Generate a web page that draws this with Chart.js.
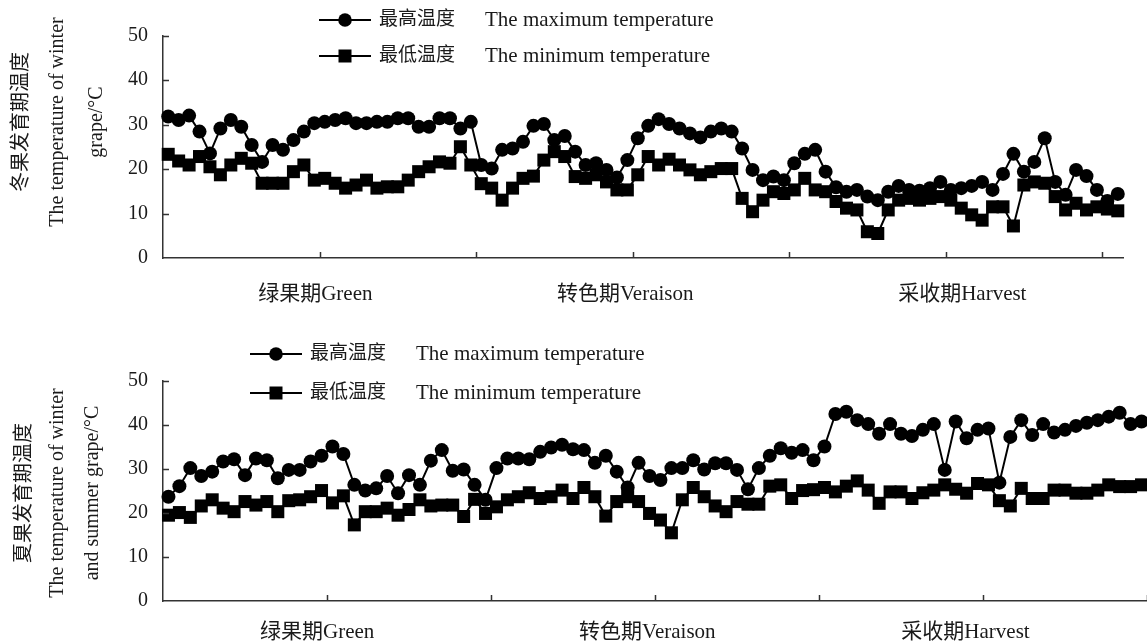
<!DOCTYPE html>
<html>
<head>
<meta charset="utf-8">
<script src="https://cdn.jsdelivr.net/npm/chart.js@4.4.0/dist/chart.umd.min.js"></script>
<style>
  html, body { margin: 0; padding: 0; background: #fff; overflow: hidden; }
  .panel { position: absolute; left: 0; width: 1147px; }
  #topPanel { top: 0; height: 320px; }
  #bottomPanel { top: 320px; height: 323px; }
</style>
</head>
<body>
<div class="panel" id="topPanel"><canvas id="winterChart"></canvas></div>
<div class="panel" id="bottomPanel"><canvas id="summerChart"></canvas></div>
<script>
// winter grape, daily max / min (°C)
const winterMax = [31.8, 31.0, 32.0, 28.4, 23.5, 29.1, 31.0, 29.5, 25.4, 21.6,
  25.4, 24.3, 26.5, 28.4, 30.3, 30.6, 31.0, 31.4, 30.3, 30.3,
  30.6, 30.6, 31.4, 31.4, 29.5, 29.5, 31.4, 31.4, 29.1, 30.6,
  20.9, 20.1, 24.3, 24.6, 26.1, 29.7, 30.1, 26.5, 27.4, 23.9,
  20.9, 21.3, 19.8, 18.1, 22.0, 26.9, 29.7, 31.2, 30.1, 29.1,
  28.0, 27.1, 28.4, 29.1, 28.4, 24.6, 19.8, 17.5, 18.3, 17.5,
  21.3, 23.4, 24.3, 19.4, 15.9, 14.9, 15.3, 13.8, 13.0, 14.9,
  16.2, 15.3, 15.1, 15.7, 17.1, 15.3, 15.7, 16.2, 17.1, 15.3,
  18.9, 23.4, 19.4, 21.6, 26.9, 17.1, 14.2, 19.8, 18.4, 15.3,
  12.8, 14.4];
const winterMin = [23.3, 21.8, 20.9, 22.8, 20.5, 18.7, 20.9, 22.4, 21.3, 16.8,
  16.8, 16.8, 19.4, 20.9, 17.5, 17.9, 16.8, 15.7, 16.4, 17.5,
  15.7, 16.0, 16.0, 17.5, 19.4, 20.5, 21.6, 21.3, 25.0, 20.9,
  16.7, 15.7, 13.0, 15.7, 17.9, 18.4, 22.0, 23.9, 22.8, 18.3,
  17.9, 18.7, 17.1, 15.3, 15.3, 18.7, 22.8, 20.9, 22.2, 20.9,
  19.8, 18.7, 19.4, 20.1, 20.1, 13.4, 10.4, 13.0, 14.9, 14.5,
  15.3, 17.9, 15.3, 14.9, 12.7, 11.2, 10.8, 5.9, 5.5, 10.8,
  13.0, 13.4, 13.0, 13.4, 13.8, 13.0, 11.2, 9.7, 8.5, 11.5,
  11.5, 7.2, 16.4, 17.1, 16.8, 13.8, 10.8, 12.3, 10.8, 11.5,
  11.0, 10.6];

// summer grape, daily max / min (°C)
const summerMax = [23.7, 26.1, 30.2, 28.4, 29.4, 31.7, 32.2, 28.6, 32.4, 32.0,
  27.9, 29.8, 29.8, 31.7, 33.0, 35.1, 33.4, 26.4, 25.1, 25.6,
  28.4, 24.5, 28.6, 26.4, 31.9, 34.3, 29.6, 29.9, 26.4, 23.0,
  30.2, 32.4, 32.4, 32.2, 33.9, 34.9, 35.5, 34.5, 34.3, 31.4,
  33.0, 29.4, 25.8, 31.4, 28.4, 27.5, 30.2, 30.2, 32.0, 29.9,
  31.3, 31.3, 29.8, 25.4, 30.2, 33.0, 34.7, 33.7, 34.3, 32.0,
  35.1, 42.5, 43.0, 41.1, 40.2, 38.0, 40.2, 38.0, 37.5, 38.9,
  40.2, 29.8, 40.8, 37.0, 38.9, 39.2, 26.9, 37.3, 41.1, 37.7,
  40.2, 38.3, 38.9, 39.8, 40.5, 41.1, 41.9, 42.8, 40.2, 40.8];
const summerMin = [19.5, 20.1, 19.0, 21.6, 23.0, 21.1, 20.3, 22.6, 21.8, 22.6,
  20.3, 22.8, 23.0, 23.7, 25.1, 22.3, 23.9, 17.3, 20.3, 20.3,
  21.1, 19.5, 20.8, 23.0, 21.6, 21.8, 21.8, 19.2, 23.1, 19.9,
  21.4, 23.0, 23.7, 24.6, 23.3, 23.7, 25.2, 23.3, 25.8, 23.7,
  19.3, 22.6, 23.7, 22.6, 19.9, 18.4, 15.5, 23.0, 25.8, 23.7,
  21.6, 20.3, 22.6, 22.0, 22.0, 26.1, 26.4, 23.3, 25.1, 25.3,
  25.8, 24.8, 26.1, 27.3, 25.2, 22.2, 24.8, 24.8, 23.3, 24.6,
  25.2, 26.4, 25.4, 24.5, 26.7, 26.4, 22.8, 21.6, 25.6, 23.3,
  23.3, 25.2, 25.2, 24.5, 24.5, 25.2, 26.4, 26.0, 26.0, 26.4];

const phaseNames = ["绿果期Green", "转色期Veraison", "采收期Harvest"];
const legendNames = [["最高温度", "The maximum temperature"], ["最低温度", "The minimum temperature"]];
const winterTitle = ["冬果发育期温度", "The temperature of winter", "grape/°C"];
const summerTitle = ["夏果发育期温度", "The temperature of winter", "and summer grape/°C"];

const FONT = "'Liberation Serif', 'Noto Sans CJK SC', serif";
const INK = "#1a1a1a";
const AXIS = "#333";

// draws inner ticks, stage labels, rotated y titles and the hand-made legend
function decorPlugin(cfg) {
  return {
    id: "decor",
    afterDraw(chart) {
      const { ctx, scales: { x, y } } = chart;
      const area = chart.chartArea;
      ctx.save();
      ctx.strokeStyle = AXIS;
      ctx.lineWidth = 1.5;
      ctx.beginPath();
      [10, 20, 30, 40, 50].forEach((v) => {
        const py = Math.round(y.getPixelForValue(v)) + 0.5;
        ctx.moveTo(area.left, py);
        ctx.lineTo(area.left + 6, py);
      });
      for (let k = cfg.tickEvery; k <= x.getLabels().length; k += cfg.tickEvery) {
        const px = Math.round(x.getPixelForValue(k - 0.5)) + 0.5;
        ctx.moveTo(px, area.bottom);
        ctx.lineTo(px, area.bottom - 6);
      }
      ctx.stroke();

      ctx.fillStyle = INK;
      ctx.font = "21px " + FONT;
      ctx.textAlign = "center";
      ctx.textBaseline = "middle";
      phaseNames.forEach((name, i) => {
        ctx.fillText(name, x.getPixelForValue(cfg.phaseAt[i] - 0.5), cfg.phaseY);
      });

      ctx.font = "20px " + FONT;
      cfg.title.forEach((line, i) => {
        ctx.save();
        ctx.translate(cfg.titleX[i], cfg.titleY);
        ctx.rotate(-Math.PI / 2);
        ctx.fillText(line, 0, 0);
        ctx.restore();
      });

      ctx.textAlign = "left";
      legendNames.forEach(([zh, en], i) => {
        const ly = cfg.legendY[i];
        const lx = cfg.legendX;
        ctx.strokeStyle = "#000";
        ctx.lineWidth = 2;
        ctx.beginPath();
        ctx.moveTo(lx, ly);
        ctx.lineTo(lx + 52, ly);
        ctx.stroke();
        ctx.fillStyle = "#000";
        ctx.beginPath();
        if (i === 0) {
          ctx.arc(lx + 26, ly, 6.8, 0, Math.PI * 2);
        } else {
          ctx.rect(lx + 19.5, ly - 6.5, 13, 13);
        }
        ctx.fill();
        ctx.fillStyle = INK;
        ctx.font = "19px " + FONT;
        ctx.fillText(zh, lx + 60, ly);
        ctx.font = "21px " + FONT;
        ctx.fillText(en, lx + 166, ly);
      });
      ctx.restore();
    }
  };
}

function makeChart(canvas, maxData, minData, cfg) {
  const days = maxData.map((_, i) => i + 1);
  return new Chart(canvas, {
    type: "line",
    data: {
      labels: days,
      datasets: [
        {
          label: legendNames[1][1],
          data: minData,
          borderColor: "#000",
          backgroundColor: "#000",
          borderWidth: 2,
          pointStyle: "rect",
          pointRadius: 9.2,
          pointBorderWidth: 0,
          tension: 0,
          clip: false
        },
        {
          label: legendNames[0][1],
          data: maxData,
          borderColor: "#000",
          backgroundColor: "#000",
          borderWidth: 2,
          pointStyle: "circle",
          pointRadius: 7,
          pointBorderWidth: 0,
          tension: 0,
          clip: false
        }
      ]
    },
    options: {
      responsive: true,
      maintainAspectRatio: false,
      animation: false,
      layout: { autoPadding: false, padding: cfg.padding },
      plugins: { legend: { display: false }, tooltip: { enabled: false } },
      scales: {
        x: {
          type: "category",
          offset: true,
          ticks: { display: false },
          grid: { display: false, drawTicks: false },
          border: { display: true, color: AXIS, width: 1.5 },
          afterFit(scale) { scale.height = cfg.xHeight; }
        },
        y: {
          min: 0,
          max: 50,
          ticks: { stepSize: 10, color: INK, padding: 15, font: { family: FONT, size: 20 } },
          grid: { display: false, drawTicks: false },
          border: { display: true, color: AXIS, width: 1.5 },
          afterFit(scale) { scale.width = 163; }
        }
      }
    },
    plugins: [decorPlugin(cfg)]
  });
}

makeChart(document.getElementById("winterChart"), winterMax, winterMin, {
  padding: { top: 35.5, right: 24, bottom: 0, left: 0 },
  xHeight: 62,
  tickEvery: 15,
  phaseAt: [14.6, 44.3, 76.6],
  phaseY: 294,
  title: winterTitle,
  titleX: [22, 58, 97],
  titleY: 122,
  legendX: 319,
  legendY: [20, 56]
});

makeChart(document.getElementById("summerChart"), summerMax, summerMin, {
  padding: { top: 61, right: 0, bottom: 0, left: 0 },
  xHeight: 42,
  tickEvery: 15,
  phaseAt: [14.1, 44.3, 73.4],
  phaseY: 312,
  title: summerTitle,
  titleX: [25, 58, 93],
  titleY: 173,
  legendX: 250,
  legendY: [34, 73]
});
</script>
</body>
</html>
